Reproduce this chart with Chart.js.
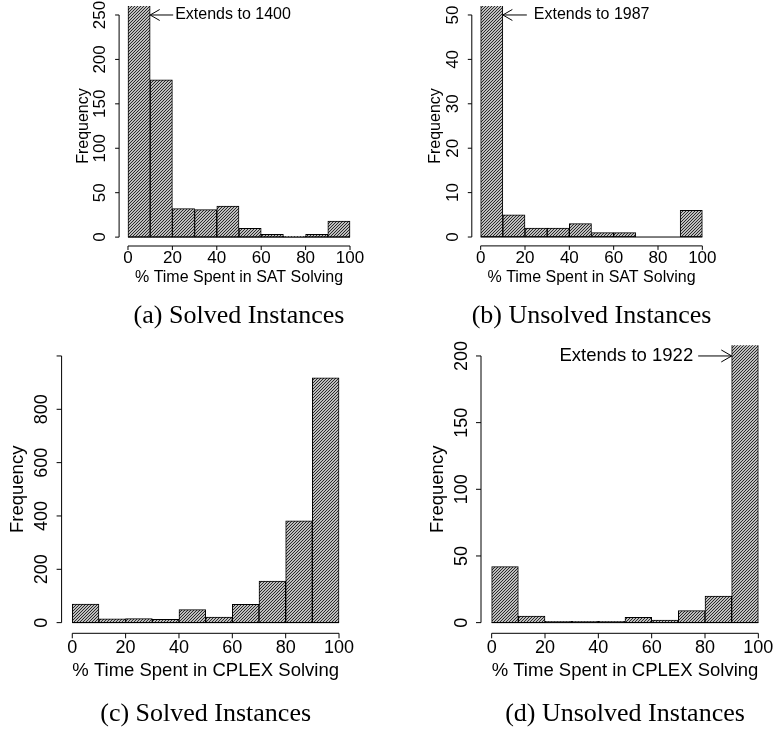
<!DOCTYPE html>
<html>
<head>
<meta charset="utf-8">
<script src="https://cdn.jsdelivr.net/npm/chart.js@4/dist/chart.umd.min.js"></script>
<style>
html, body { margin: 0; padding: 0; background: #fff; }
#wrap { position: relative; width: 775px; height: 730px; overflow: hidden; background: #fff; }
#wrap canvas { position: absolute; left: 0; top: 0; }
</style>
</head>
<body>
<div id="wrap">
  <canvas id="pa"></canvas>
  <canvas id="pb"></canvas>
  <canvas id="pc"></canvas>
  <canvas id="pd"></canvas>
</div>
<script>
// histogram bins (% of time), 10 wide
var binStarts = [0, 10, 20, 30, 40, 50, 60, 70, 80, 90];
var binWidth = 10;

// counts
var satSolved    = [1400, 177, 32, 31, 35, 10, 3, 1, 3, 18];
var satUnsolved  = [1987, 5, 2, 2, 3, 1, 1, 0, 0, 6];
var cplexSolved  = [70, 14, 15, 12, 49, 21, 69, 156, 382, 918];
var cplexUnsolved = [42, 5, 1, 1, 1, 4, 2, 9, 20, 1922];

// tick labels
var xTicks = [0, 20, 40, 60, 80, 100];
var yTicksA = [0, 50, 100, 150, 200, 250];
var yTicksB = [0, 10, 20, 30, 40, 50];
var yTicksC = [0, 200, 400, 600, 800, 1000];
var yLabelsC = ['0', '200', '400', '600', '800', ''];
var yTicksD = [0, 50, 100, 150, 200];

var W = 775, H = 730;

// R-style "density" shading: thin 45 degree lines
function hatch(step) {
    var c = document.createElement('canvas');
    c.width = step; c.height = step;
    var g = c.getContext('2d');
    g.fillStyle = '#fff';
    g.fillRect(0, 0, step, step);
    g.strokeStyle = '#202020';
    g.lineWidth = 1.12;
    g.beginPath();
    g.moveTo(-1, step + 1); g.lineTo(step + 1, -1);
    g.moveTo(-1, 1); g.lineTo(1, -1);
    g.moveTo(step - 1, step + 1); g.lineTo(step + 1, step - 1);
    g.stroke();
    return g.createPattern(c, 'repeat');
}

function line(ctx, x1, y1, x2, y2) {
    ctx.beginPath();
    ctx.moveTo(x1, y1);
    ctx.lineTo(x2, y2);
    ctx.stroke();
}

function arrow(ctx, tx, ty, hx, hy, len) {
    line(ctx, tx, ty, hx, hy);
    var ang = Math.atan2(hy - ty, hx - tx);
    var a = Math.PI / 6;
    line(ctx, hx, hy, hx - len * Math.cos(ang - a), hy - len * Math.sin(ang - a));
    line(ctx, hx, hy, hx - len * Math.cos(ang + a), hy - len * Math.sin(ang + a));
}

function rotText(ctx, text, cx, cy) {
    ctx.save();
    ctx.translate(cx, cy);
    ctx.rotate(-Math.PI / 2);
    ctx.textAlign = 'center';
    ctx.textBaseline = 'middle';
    ctx.fillText(text, 0, 0);
    ctx.restore();
}

function panel(p) {
    var canvas = document.getElementById(p.id);
    canvas.width = W; canvas.height = H;
    canvas.style.width = W + 'px'; canvas.style.height = H + 'px';

    var points = binStarts.map(function (b, i) {
        return { x: b + binWidth / 2, y: p.values[i] };
    });

    var rAxes = {
        id: 'rAxes',
        afterDraw: function (chart) {
            var ctx = chart.ctx;
            var xs = chart.scales.x, ys = chart.scales.y;
            var area = chart.chartArea;
            ctx.save();
            ctx.strokeStyle = '#000';
            ctx.fillStyle = '#000';
            ctx.lineWidth = 1;

            // bottom edge of the bars (also shows empty bins)
            var y0 = ys.getPixelForValue(0);
            line(ctx, xs.getPixelForValue(binStarts[0]), y0,
                 xs.getPixelForValue(binStarts[binStarts.length - 1] + binWidth), y0);

            // x axis
            var xb = area.bottom;
            line(ctx, xs.getPixelForValue(xTicks[0]), xb, xs.getPixelForValue(xTicks[xTicks.length - 1]), xb);
            ctx.font = p.tickFont + 'px "Liberation Sans", Arial, sans-serif';
            ctx.textAlign = 'center';
            ctx.textBaseline = 'middle';
            xTicks.forEach(function (v) {
                var px = xs.getPixelForValue(v);
                line(ctx, px, xb, px, xb + p.tickLen);
                ctx.fillText(String(v), px, p.xTickY);
            });

            // y axis
            var xl = area.left;
            line(ctx, xl, ys.getPixelForValue(p.yTicks[0]), xl, ys.getPixelForValue(p.yTicks[p.yTicks.length - 1]));
            p.yTicks.forEach(function (v, i) {
                var py = ys.getPixelForValue(v);
                line(ctx, xl - p.tickLen, py, xl, py);
                var lab = p.yLabels ? p.yLabels[i] : String(v);
                if (lab) rotText(ctx, lab, p.yTickX, py);
            });

            // axis titles
            ctx.font = p.titleFont + 'px "Liberation Sans", Arial, sans-serif';
            ctx.textAlign = 'center';
            ctx.textBaseline = 'middle';
            ctx.fillText(p.xTitle, (xs.getPixelForValue(0) + xs.getPixelForValue(100)) / 2, p.xTitleY);
            rotText(ctx, 'Frequency', p.yTitleX, (area.top + area.bottom) / 2);

            // clipped bar note
            var n = p.note;
            if (n) {
                var hx = xs.getPixelForValue(n.atX), hy = ys.getPixelForValue(n.atY);
                arrow(ctx, hx + n.tail, hy, hx, hy, n.head);
                ctx.font = n.font + 'px "Liberation Sans", Arial, sans-serif';
                ctx.textBaseline = 'middle';
                ctx.textAlign = n.tail > 0 ? 'left' : 'right';
                ctx.fillText(n.text, hx + n.textOff, hy);
            }

            // caption
            ctx.font = p.capFont + 'px "Liberation Serif", "Times New Roman", serif';
            ctx.textAlign = 'center';
            ctx.textBaseline = 'alphabetic';
            ctx.fillText(p.caption, (xs.getPixelForValue(0) + xs.getPixelForValue(100)) / 2, p.capY);
            ctx.restore();
        }
    };

    return new Chart(canvas, {
        type: 'bar',
        data: {
            datasets: [{
                data: points,
                backgroundColor: hatch(p.hatch),
                borderColor: '#000',
                borderWidth: 1,
                borderSkipped: false,
                barPercentage: 1.0,
                categoryPercentage: 1.0,
                clip: 0
            }]
        },
        options: {
            responsive: false,
            animation: false,
            events: [],
            layout: {
                padding: { left: p.area[0], right: W - p.area[1], top: p.area[2], bottom: H - p.area[3] }
            },
            scales: {
                x: { type: 'linear', min: -4, max: 104, offset: false, display: false },
                y: { type: 'linear', min: p.yRange[0], max: p.yRange[1], display: false }
            },
            plugins: { legend: { display: false }, tooltip: { enabled: false } }
        },
        plugins: [rAxes]
    });
}

panel({
    id: 'pa', values: satSolved, area: [119.1, 358.9, 6.1, 246], yRange: [-10, 260],
    yTicks: yTicksA, yTickX: 100, yTitleX: 83.3, xTickY: 258.7, xTitleY: 277.8,
    tickFont: 17, titleFont: 16, tickLen: 4, hatch: 3,
    xTitle: '% Time Spent in SAT Solving',
    note: { text: 'Extends to 1400', atX: 10, atY: 250, tail: 23, textOff: 25, head: 11, font: 16 },
    caption: '(a) Solved Instances', capFont: 26, capY: 323
});

panel({
    id: 'pb', values: satUnsolved, area: [471.8, 711.2, 6.1, 245.9], yRange: [-2, 52],
    yTicks: yTicksB, yTickX: 453.5, yTitleX: 435.5, xTickY: 258.7, xTitleY: 277.8,
    tickFont: 17, titleFont: 16, tickLen: 4, hatch: 3,
    xTitle: '% Time Spent in SAT Solving',
    note: { text: 'Extends to 1987', atX: 10, atY: 50, tail: 24, textOff: 31, head: 11, font: 16 },
    caption: '(b) Unsolved Instances', capFont: 26, capY: 323
});

panel({
    id: 'pc', values: cplexSolved, area: [61.6, 349.7, 345.3, 633.3], yRange: [-40, 1040],
    yTicks: yTicksC, yLabels: yLabelsC, yTickX: 41.7, yTitleX: 18.3, xTickY: 648.3, xTitleY: 670.5,
    tickFont: 18, titleFont: 18.5, tickLen: 5, hatch: 3,
    xTitle: '% Time Spent in CPLEX Solving',
    note: null,
    caption: '(c) Solved Instances', capFont: 26, capY: 721
});

panel({
    id: 'pd', values: cplexUnsolved, area: [481, 769, 345.3, 633.3], yRange: [-8, 208],
    yTicks: yTicksD, yTickX: 462.5, yTitleX: 438, xTickY: 648.3, xTitleY: 670.5,
    tickFont: 18, titleFont: 18.5, tickLen: 5, hatch: 3,
    xTitle: '% Time Spent in CPLEX Solving',
    note: { text: 'Extends to 1922', atX: 90, atY: 200, tail: -33.5, textOff: -38.5, head: 12, font: 18.5 },
    caption: '(d) Unsolved Instances', capFont: 26, capY: 721
});
</script>
</body>
</html>
